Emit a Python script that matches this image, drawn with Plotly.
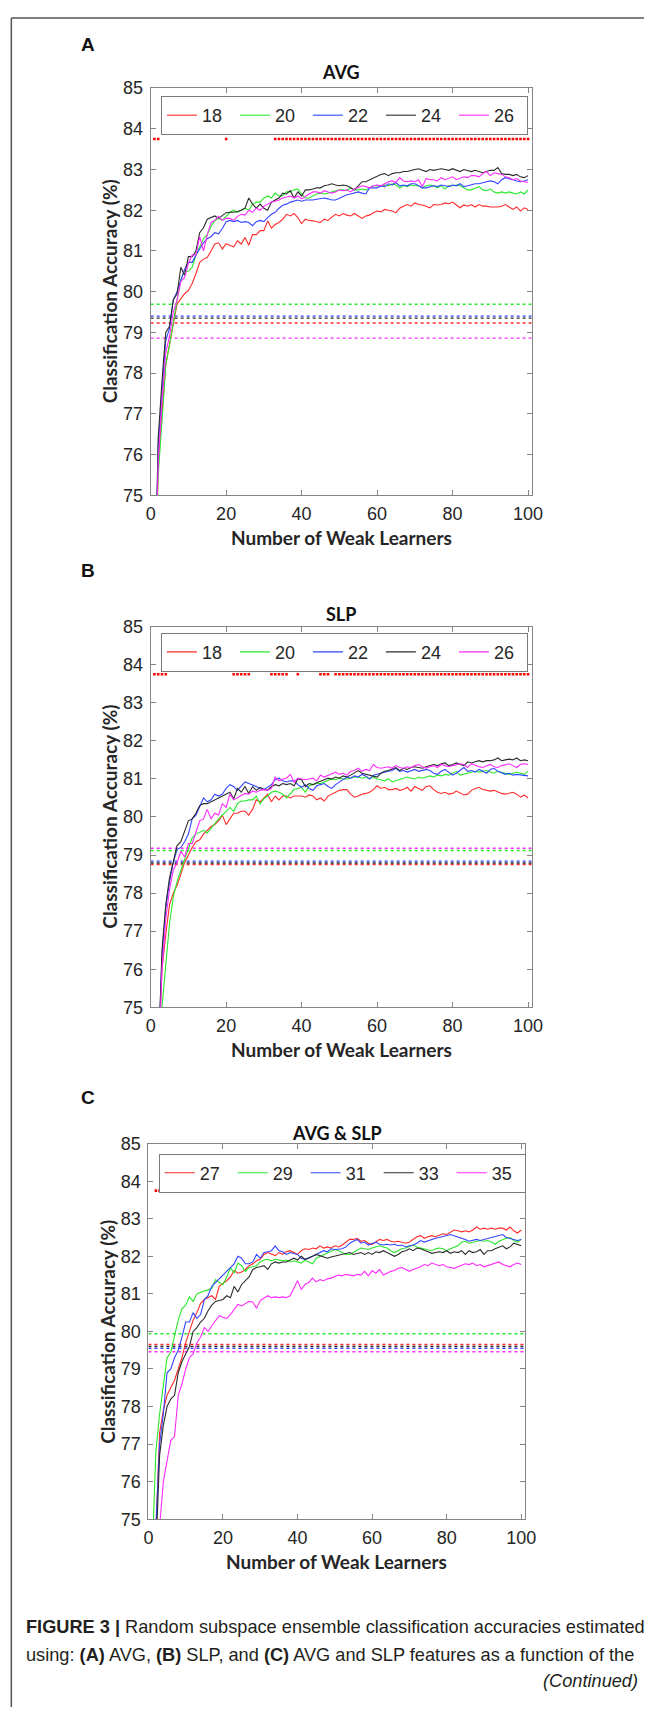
import plotly.graph_objects as go

W, H = 655, 1717
n_learners = list(range(1, 101))

# ---------------- Panel A : AVG ----------------
avg_labels = ["18", "20", "22", "24", "26"]
avg_18 = [72.0, 75.8, 77.0, 78.2, 78.7, 79.2, 79.7, 79.83, 79.95, 80.03,
          80.2, 80.44, 80.72, 80.8, 80.84, 81.0, 81.17, 81.2, 81.05, 81.18,
          81.13, 81.1, 81.25, 81.17, 81.33, 81.14, 81.4, 81.4, 81.5, 81.5,
          81.74, 81.56, 81.65, 81.7, 81.78, 81.9, 81.86, 81.92, 81.82, 81.67,
          81.78, 81.75, 81.74, 81.72, 81.7, 81.78, 81.75, 81.83, 81.9, 81.86,
          81.92, 81.88, 81.86, 81.92, 81.86, 81.8, 81.86, 81.88, 81.94, 81.98,
          81.96, 82.02, 82.0, 81.98, 81.94, 82.05, 82.1, 82.14, 82.1, 82.18,
          82.14, 82.13, 82.1, 82.06, 82.14, 82.13, 82.14, 82.18, 82.16, 82.2,
          82.13, 82.06, 82.13, 82.1, 82.14, 82.08, 82.14, 82.1, 82.1, 82.08,
          82.08, 82.08, 82.1, 82.14, 82.08, 82.02, 82.08, 81.98, 82.06, 82.02]
avg_20 = [72.0, 75.5, 76.8, 78.2, 78.7, 79.3, 79.8, 80.3, 80.5, 80.5,
          80.6, 80.9, 81.1, 81.3, 81.4, 81.6, 81.75, 81.8, 81.75, 81.85,
          81.95, 82.0, 81.95, 82.0, 82.05, 82.0, 82.15, 82.2, 82.2, 82.3,
          82.35, 82.3, 82.42, 82.35, 82.35, 82.45, 82.45, 82.5, 82.52, 82.4,
          82.3, 82.3, 82.35, 82.4, 82.42, 82.4, 82.42, 82.45, 82.48, 82.5,
          82.5, 82.48, 82.55, 82.5, 82.5, 82.52, 82.5, 82.55, 82.6, 82.6,
          82.58, 82.62, 82.6, 82.65, 82.62, 82.55, 82.6, 82.58, 82.62, 82.6,
          82.6, 82.55, 82.6, 82.62, 82.6, 82.55, 82.6, 82.52, 82.6, 82.6,
          82.62, 82.6, 82.55, 82.5, 82.5, 82.55, 82.58, 82.5, 82.48, 82.52,
          82.45, 82.42, 82.45, 82.42, 82.45, 82.42, 82.4, 82.45, 82.4, 82.5]
avg_22 = [72.0, 76.2, 77.5, 78.8, 79.1, 79.8, 80.0, 80.3, 80.55, 80.72,
          80.72, 80.9, 81.05, 81.2, 81.3, 81.35, 81.45, 81.42, 81.55, 81.72,
          81.75, 81.72, 81.75, 81.7, 81.72, 81.7, 81.62, 81.72, 81.75, 81.72,
          81.82, 81.9, 81.95, 82.05, 82.12, 82.15, 82.2, 82.22, 82.25, 82.22,
          82.25, 82.25, 82.25, 82.27, 82.28, 82.3, 82.28, 82.25, 82.25, 82.3,
          82.35, 82.38, 82.4, 82.42, 82.45, 82.42, 82.4, 82.55, 82.55, 82.55,
          82.6, 82.58, 82.65, 82.62, 82.68, 82.6, 82.62, 82.6, 82.65, 82.65,
          82.6, 82.55, 82.55, 82.58, 82.6, 82.58, 82.62, 82.6, 82.58, 82.62,
          82.6, 82.65, 82.58, 82.6, 82.62, 82.65, 82.65, 82.68, 82.7, 82.72,
          82.7, 82.65, 82.75, 82.8, 82.78, 82.75, 82.72, 82.7, 82.72, 82.75]
avg_24 = [72.0, 76.4, 77.8, 79.0, 79.15, 79.8, 79.95, 80.6, 80.4, 80.86,
          80.86, 81.0, 81.45, 81.57, 81.78, 81.82, 81.86, 81.8, 81.86, 81.94,
          81.95, 81.95, 81.97, 82.0, 82.05, 82.3, 82.15, 82.05, 82.15, 82.05,
          82.0, 82.2, 82.25, 82.3, 82.42, 82.4, 82.48, 82.3, 82.45, 82.35,
          82.5, 82.5, 82.52, 82.55, 82.55, 82.6, 82.62, 82.65, 82.62, 82.6,
          82.62, 82.6, 82.55, 82.5, 82.6, 82.7, 82.7, 82.75, 82.8, 82.85,
          82.88, 82.9, 82.85, 82.9, 82.92, 82.92, 82.95, 82.95, 82.98, 83.0,
          83.02, 82.98, 82.95, 83.0, 82.98, 83.0, 83.02, 83.0, 82.98, 83.02,
          82.98, 82.95, 83.0, 82.98, 82.95, 82.98, 82.95, 82.92, 82.95, 82.98,
          82.98, 83.05, 82.9, 82.88, 82.88, 82.85, 82.88, 82.82, 82.8, 82.85]
avg_26 = [72.0, 75.8, 77.3, 78.5, 78.9, 79.5, 79.8, 80.25, 80.35, 80.7,
          80.9, 80.9, 81.35, 81.0, 81.4, 81.7, 81.75, 81.85, 81.75, 81.8,
          81.8, 81.75, 81.85, 81.9, 81.88, 82.0, 81.95, 82.05, 82.0, 82.1,
          82.15, 82.2, 82.22, 82.25, 82.3, 82.32, 82.35, 82.3, 82.35, 82.28,
          82.35, 82.4, 82.45, 82.45, 82.42, 82.48, 82.45, 82.42, 82.45, 82.5,
          82.48, 82.5, 82.45, 82.52, 82.55, 82.6, 82.58, 82.55, 82.6, 82.62,
          82.6, 82.65, 82.7, 82.72, 82.68, 82.8, 82.72, 82.7, 82.72, 82.7,
          82.75, 82.58, 82.78, 82.75, 82.75, 82.72, 82.8, 82.75, 82.78, 82.82,
          82.75, 82.78, 82.82, 82.8, 82.85, 82.85, 82.82, 82.9, 82.95, 82.85,
          82.92, 82.9, 82.88, 82.82, 82.8, 82.75, 82.78, 82.72, 82.7, 82.68]
avg_baseline = [79.23, 79.69, 79.40, 79.35, 78.86]
avg_sig = [1, 2, 20] + list(range(33, 101))

# ---------------- Panel B : SLP ----------------
slp_labels = ["18", "20", "22", "24", "26"]
slp_18 = [71.0, 73.5, 76.0, 76.9, 77.7, 78.0, 78.2, 78.5, 78.8, 79.0,
          79.2, 79.35, 79.4, 79.55, 79.65, 79.75, 79.8, 79.9, 80.05, 79.8,
          79.95, 80.1, 80.1, 80.15, 80.15, 80.05, 80.2, 80.45, 80.4, 80.5,
          80.6, 80.4, 80.55, 80.45, 80.55, 80.55, 80.5, 80.55, 80.55, 80.55,
          80.52, 80.58, 80.55, 80.45, 80.5, 80.42, 80.55, 80.6, 80.65, 80.7,
          80.72, 80.72, 80.6, 80.52, 80.55, 80.6, 80.62, 80.65, 80.72, 80.82,
          80.75, 80.78, 80.72, 80.72, 80.75, 80.7, 80.72, 80.78, 80.68, 80.8,
          80.75, 80.7, 80.8, 80.82, 80.72, 80.65, 80.62, 80.65, 80.6, 80.62,
          80.68, 80.62, 80.58, 80.6, 80.7, 80.75, 80.78, 80.72, 80.7, 80.68,
          80.7, 80.65, 80.62, 80.6, 80.62, 80.65, 80.6, 80.52, 80.58, 80.5]
slp_20 = [70.0, 72.5, 75.0, 76.1, 77.2, 77.9, 78.3, 78.6, 78.9, 79.2,
          79.45, 79.55, 79.6, 79.65, 79.58, 79.7, 79.85, 79.95, 80.05, 80.15,
          80.25, 80.15, 80.35, 80.42, 80.42, 80.45, 80.45, 80.55, 80.35, 80.48,
          80.55, 80.65, 80.68, 80.65, 80.6, 80.5, 80.62, 80.72, 80.75, 80.78,
          80.65, 80.82, 80.85, 80.88, 80.88, 80.92, 80.95, 81.0, 80.98, 81.02,
          81.0, 81.0, 81.02, 81.05, 81.05, 81.02, 81.05, 81.0, 81.05, 81.0,
          80.98, 80.95, 81.0, 80.92, 80.95, 80.98, 81.0, 81.05, 81.02, 81.0,
          81.05, 81.02, 81.05, 81.08, 81.05, 81.1, 81.08, 81.12, 81.1, 81.15,
          81.2, 81.1, 81.12, 81.15, 81.18, 81.2, 81.18, 81.2, 81.22, 81.18,
          81.15, 81.2, 81.18, 81.15, 81.12, 81.15, 81.18, 81.15, 81.12, 81.2]
slp_22 = [71.0, 73.5, 76.3, 77.6, 78.3, 78.8, 79.15, 79.2, 79.35, 79.55,
          79.95, 80.05, 80.3, 80.5, 80.4, 80.45, 80.6, 80.55, 80.6, 80.75,
          80.85, 80.8, 80.7, 80.82, 80.92, 80.88, 80.85, 80.8, 80.75, 80.72,
          80.78, 80.85, 80.98, 81.02, 80.95, 80.92, 80.95, 80.95, 80.85, 80.78,
          80.85, 80.75, 80.7, 80.82, 80.85, 80.88, 80.8, 80.75, 80.85, 80.92,
          81.0, 81.05, 81.02, 81.08, 81.05, 81.12, 81.08, 81.0, 81.1, 81.12,
          81.15, 81.18, 81.2, 81.22, 81.28, 81.2, 81.22, 81.18, 81.22, 81.25,
          81.2, 81.22, 81.25, 81.22, 81.15, 81.12, 81.2, 81.25, 81.18, 81.1,
          81.15, 81.22, 81.3, 81.2, 81.22, 81.18, 81.25, 81.2, 81.15, 81.25,
          81.28, 81.2, 81.15, 81.12, 81.15, 81.1, 81.12, 81.1, 81.08, 81.08]
slp_24 = [71.0, 73.5, 76.5, 77.7, 78.4, 78.8, 79.25, 79.35, 79.6, 79.9,
          79.95, 80.1, 80.3, 80.35, 80.35, 80.4, 80.45, 80.5, 80.55, 80.6,
          80.65, 80.48, 80.75, 80.65, 80.8, 80.62, 80.8, 80.7, 80.78, 80.72,
          80.7, 80.8, 80.85, 80.82, 80.88, 80.85, 80.88, 80.82, 81.0, 80.98,
          80.8, 80.88, 80.85, 80.9, 80.95, 80.98, 81.02, 81.0, 81.05, 81.02,
          81.08, 81.05, 81.1, 81.15, 81.22, 81.15, 81.12, 81.1, 81.08, 81.05,
          81.15, 81.2, 81.22, 81.25, 81.3, 81.22, 81.28, 81.25, 81.3, 81.32,
          81.3, 81.28, 81.32, 81.35, 81.38, 81.35, 81.4, 81.42, 81.35, 81.38,
          81.42, 81.38, 81.35, 81.45, 81.42, 81.45, 81.48, 81.45, 81.48, 81.48,
          81.5, 81.55, 81.48, 81.5, 81.52, 81.5, 81.55, 81.48, 81.5, 81.48]
slp_26 = [71.0, 73.2, 76.0, 77.3, 78.1, 78.6, 78.8, 79.1, 78.95, 79.3,
          79.3, 79.6, 79.9, 79.95, 80.2, 79.95, 80.1, 80.05, 80.35, 80.25,
          80.6, 80.45, 80.5, 80.55, 80.62, 80.6, 80.68, 80.65, 80.7, 80.72,
          80.7, 80.75, 81.05, 80.95, 81.0, 81.02, 81.12, 80.92, 81.02, 81.0,
          80.98, 81.0, 81.02, 80.95, 81.1, 81.05, 81.1, 81.15, 81.18, 81.12,
          81.15, 81.1, 81.2, 81.22, 81.28, 81.2, 81.25, 81.22, 81.38, 81.3,
          81.28, 81.3, 81.32, 81.28, 81.35, 81.3, 81.28, 81.32, 81.3, 81.35,
          81.38, 81.32, 81.28, 81.32, 81.35, 81.3, 81.38, 81.35, 81.32, 81.35,
          81.38, 81.4, 81.38, 81.3, 81.4, 81.35, 81.32, 81.3, 81.35, 81.38,
          81.32, 81.3, 81.35, 81.38, 81.4, 81.35, 81.3, 81.38, 81.4, 81.38]
slp_baseline = [78.75, 79.12, 78.84, 78.79, 79.18]
slp_sig = ([1, 2, 3, 4] + [22, 23, 24, 25, 26] + [32, 33, 34, 35, 36] + [39]
           + [45, 46, 47] + list(range(49, 101)))

# ---------------- Panel C : AVG & SLP ----------------
both_labels = ["27", "29", "31", "33", "35"]
both_27 = [72.0, 74.7, 77.3, 77.9, 78.3, 78.5, 78.7, 79.0, 79.3, 79.7,
           80.0, 80.3, 80.5, 80.75, 80.85, 80.9, 80.95, 80.85, 81.2, 81.28,
           81.35, 81.45, 81.62, 81.55, 81.58, 81.65, 81.75, 81.8, 81.88, 81.92,
           82.05, 82.1, 82.05, 82.02, 82.1, 82.05, 82.12, 82.15, 82.1, 82.05,
           82.15, 82.2, 82.18, 82.22, 82.2, 82.28, 82.22, 82.25, 82.22, 82.28,
           82.25, 82.3, 82.38, 82.45, 82.45, 82.48, 82.4, 82.42, 82.35, 82.32,
           82.38, 82.45, 82.42, 82.45, 82.4, 82.38, 82.4, 82.38, 82.35, 82.38,
           82.45, 82.52, 82.55, 82.48, 82.52, 82.55, 82.52, 82.55, 82.6, 82.58,
           82.65, 82.7, 82.68, 82.65, 82.68, 82.65, 82.7, 82.78, 82.72, 82.75,
           82.72, 82.75, 82.72, 82.75, 82.75, 82.7, 82.78, 82.68, 82.62, 82.7]
both_29 = [74.0, 76.8, 77.8, 78.5, 79.3, 79.45, 79.9, 80.3, 80.6, 80.7,
           80.92, 80.8, 81.0, 81.05, 81.08, 81.1, 81.15, 81.38, 81.3, 81.25,
           81.45, 81.7, 81.55, 81.82, 81.75, 81.6, 81.7, 81.72, 81.75, 81.85,
           81.9, 81.92, 81.88, 81.92, 81.9, 81.88, 81.9, 81.85, 81.88, 81.85,
           81.82, 81.9, 81.85, 81.8, 81.95, 82.0, 82.05, 82.1, 82.15, 82.18,
           82.15, 82.1, 82.05, 82.05, 82.1, 82.15, 82.22, 82.2, 82.18, 82.22,
           82.25, 82.28, 82.25, 82.22, 82.15, 82.1, 82.15, 82.2, 82.22, 82.25,
           82.3, 82.25, 82.22, 82.2, 82.18, 82.15, 82.2, 82.22, 82.2, 82.15,
           82.2, 82.25, 82.28, 82.38, 82.4, 82.35, 82.38, 82.4, 82.42, 82.4,
           82.42, 82.38, 82.32, 82.4, 82.45, 82.48, 82.5, 82.42, 82.38, 82.45]
both_31 = [72.0, 74.8, 77.0, 77.8, 78.9, 79.0, 79.3, 79.5, 79.85, 80.25,
           80.25, 80.5, 80.35, 80.45, 80.85, 80.95, 81.2, 81.3, 81.4, 81.5,
           81.6, 81.7, 81.8, 82.0, 81.95, 81.8, 81.8, 81.85, 82.05, 81.95,
           82.1, 82.12, 82.15, 82.28, 82.15, 82.12, 82.05, 82.1, 82.08, 82.05,
           81.95, 81.92, 81.95, 82.0, 82.05, 82.1, 82.15, 82.12, 82.2, 82.18,
           82.2, 82.2, 82.25, 82.35, 82.4, 82.45, 82.35, 82.38, 82.3, 82.35,
           82.38, 82.32, 82.3, 82.32, 82.3, 82.32, 82.28, 82.3, 82.25, 82.28,
           82.3, 82.35, 82.42, 82.38, 82.42, 82.45, 82.48, 82.5, 82.52, 82.55,
           82.58, 82.55, 82.52, 82.48, 82.45, 82.4, 82.42, 82.45, 82.42, 82.45,
           82.48, 82.5, 82.52, 82.55, 82.58, 82.5, 82.48, 82.45, 82.42, 82.45]
both_33 = [71.5, 74.2, 76.7, 77.5, 78.0, 78.2, 78.3, 78.9, 79.2, 79.4,
           79.6, 80.0, 80.1, 80.25, 80.35, 80.55, 80.7, 80.8, 80.82, 80.85,
           80.95, 80.9, 81.2, 81.05, 81.25, 81.35, 81.45, 81.65, 81.7, 81.72,
           81.75, 81.65, 81.8, 81.85, 81.82, 81.85, 81.85, 81.9, 81.95, 81.9,
           82.0, 81.92, 81.95, 82.0, 82.05, 82.02, 82.0, 81.95, 81.98, 82.0,
           82.02, 82.05, 82.08, 82.1, 82.05, 82.08, 82.1, 82.05, 82.1, 82.05,
           82.12, 82.1, 82.15, 82.1, 82.05, 82.0, 82.05, 82.12, 82.15, 82.2,
           82.15, 82.22, 82.2, 82.15, 82.12, 82.08, 82.1, 82.12, 82.1, 82.15,
           82.08, 82.12, 82.1, 82.15, 82.05, 82.15, 82.1, 82.12, 82.18, 82.05,
           82.15, 82.15, 82.2, 82.25, 82.28, 82.2, 82.25, 82.35, 82.32, 82.28]
both_35 = [70.0, 72.5, 74.8, 76.0, 76.5, 77.1, 77.2, 78.3, 78.6, 79.0,
           79.3, 79.4, 79.7, 79.85, 80.1, 80.0, 80.15, 80.3, 80.42, 80.38,
           80.35, 80.45, 80.6, 80.72, 80.68, 80.75, 80.8, 80.78, 80.62, 80.82,
           80.88, 80.95, 80.9, 80.92, 80.9, 80.92, 80.9, 80.95, 81.15, 81.35,
           81.12, 81.25, 81.3, 81.42, 81.32, 81.38, 81.35, 81.4, 81.42, 81.45,
           81.5, 81.48, 81.52, 81.5, 81.48, 81.52, 81.5, 81.6, 81.48, 81.62,
           81.55, 81.65, 81.5, 81.55, 81.6, 81.62, 81.68, 81.7, 81.65, 81.6,
           81.65, 81.68, 81.72, 81.78, 81.75, 81.82, 81.78, 81.75, 81.78, 81.72,
           81.7, 81.68, 81.72, 81.75, 81.8, 81.78, 81.82, 81.75, 81.78, 81.72,
           81.75, 81.78, 81.8, 81.85, 81.78, 81.75, 81.72, 81.78, 81.82, 81.78]
both_baseline = [79.65, 79.94, 79.55, 79.60, 79.46]
both_sig = [2, 3] + list(range(22, 101))

sig_level = 83.75
x_ticks = [0, 20, 40, 60, 80, 100]
y_ticks = [75, 76, 77, 78, 79, 80, 81, 82, 83, 84, 85]

# ---------------- styling / layout (pixels) ----------------
colors = ["#ff2a2a", "#2ae82a", "#3344ff", "#2b2b2b", "#ff2aff"]
panels = [
    dict(letter="A", title="AVG", labels=avg_labels,
         series=[avg_18, avg_20, avg_22, avg_24, avg_26],
         base=avg_baseline, sig=avg_sig,
         left=149.3, right=540.0, top=79.0, bottom=491.0,
         letter_dy=44, title_dy=16, leg_dy=8, xt_dy=43),
    dict(letter="B", title="SLP", labels=slp_labels,
         series=[slp_18, slp_20, slp_22, slp_24, slp_26],
         base=slp_baseline, sig=slp_sig,
         left=149.3, right=540.0, top=624.0, bottom=1009.0,
         letter_dy=57, title_dy=13, leg_dy=6, xt_dy=43),
    dict(letter="C", title="AVG &amp; SLP", labels=both_labels,
         series=[both_27, both_29, both_31, both_33, both_35],
         base=both_baseline, sig=both_sig,
         left=147.0, right=533.0, top=1147.0, bottom=1527.0,
         letter_dy=47, title_dy=11, leg_dy=10, xt_dy=43),
]


def px(xp):
    return xp / W


def py(yp):
    return 1 - yp / H


fig = go.Figure()
annotations = []
layout_axes = {}
SANS = "Liberation Sans, Arial, sans-serif"
TICK_FONT = dict(family=SANS, size=18, color="#262626")
BOLD_FONT = "Lato, Open Sans, sans-serif"

for i, p in enumerate(panels):
    k = "" if i == 0 else str(i + 1)
    xa, ya = "x" + k, "y" + k
    leg = "legend" + k
    for c, b in zip(colors, p["base"]):
        fig.add_trace(go.Scatter(x=[0, 101], y=[b, b], mode="lines", xaxis=xa, yaxis=ya,
                                 line=dict(color=c, width=1.4, dash="dot"),
                                 showlegend=False, hoverinfo="skip"))
    for c, lab, s in zip(colors, p["labels"], p["series"]):
        fig.add_trace(go.Scatter(x=n_learners, y=s, mode="lines", name=lab,
                                 xaxis=xa, yaxis=ya, legend=leg,
                                 line=dict(color=c, width=1.1)))
    fig.add_trace(go.Scatter(x=p["sig"], y=[sig_level] * len(p["sig"]), mode="markers",
                             xaxis=xa, yaxis=ya, showlegend=False, hoverinfo="skip",
                             marker=dict(symbol="square", size=2.6, color="#ff0000",
                                         line=dict(width=0))))
    axis_common = dict(showgrid=False, zeroline=False, showline=True, linecolor="#858585",
                       linewidth=1, mirror="ticks", ticks="inside", ticklen=5,
                       tickcolor="#858585", tickfont=TICK_FONT)
    layout_axes["xaxis" + k] = dict(axis_common, domain=[px(p["left"]), px(p["right"])],
                                    range=[0, 101], tickvals=x_ticks, anchor=ya,
                                    ticklabelstandoff=2)
    layout_axes["yaxis" + k] = dict(axis_common, domain=[py(p["bottom"]), py(p["top"])],
                                    range=[75, 85], tickvals=y_ticks, anchor=xa,
                                    ticklabelstandoff=3)
    layout_axes[leg] = dict(orientation="h", x=px(p["left"] + 10.5), y=py(p["top"] + p["leg_dy"]),
                            xanchor="left", yanchor="top", bgcolor="white",
                            bordercolor="#7a7a7a", borderwidth=1,
                            font=dict(family=SANS, size=18, color="#262626"),
                            entrywidth=28, entrywidthmode="pixels", itemwidth=30,
                            tracegroupgap=0, traceorder="normal")
    cx = (p["left"] + p["right"]) / 2
    cy = (p["top"] + p["bottom"]) / 2
    annotations += [
        dict(text="<b>%s</b>" % p["letter"], x=px(76), y=py(p["top"] - p["letter_dy"]),
             xanchor="left", yanchor="middle",
             font=dict(family=SANS, size=19, color="#111")),
        dict(text="<b>%s</b>" % p["title"], x=px(cx), y=py(p["top"] - p["title_dy"]),
             xanchor="center", yanchor="middle",
             font=dict(family=BOLD_FONT, size=18, color="#111")),
        dict(text="<b>Classification Accuracy (%)</b>", x=px(p["left"] - 42), y=py(cy),
             xanchor="center", yanchor="middle", textangle=-90,
             font=dict(family=BOLD_FONT, size=19, color="#262626")),
        dict(text="<b>Number of Weak Learners</b>", x=px(cx), y=py(p["bottom"] + p["xt_dy"]),
             xanchor="center", yanchor="middle",
             font=dict(family=BOLD_FONT, size=19, color="#262626")),
    ]

CAP_FONT = dict(family=SANS, size=18.2, color="#231f20")
annotations += [
    dict(text="<b>FIGURE 3 |</b> Random subspace ensemble classification accuracies estimated",
         x=px(19), y=py(1636), xanchor="left", yanchor="middle", font=CAP_FONT),
    dict(text="using: <b>(A)</b> AVG, <b>(B)</b> SLP, and <b>(C)</b> AVG and SLP features as a function of the",
         x=px(19), y=py(1664), xanchor="left", yanchor="middle", font=CAP_FONT),
    dict(text="<i>(Continued)</i>", x=px(651), y=py(1691), xanchor="right", yanchor="middle",
         font=CAP_FONT),
]
for a in annotations:
    a.update(xref="paper", yref="paper", showarrow=False)

shapes = [
    dict(type="line", xref="paper", yref="paper", x0=px(6.5), x1=1.0, y0=py(8), y1=py(8),
         line=dict(color="#555555", width=1.5)),
    dict(type="line", xref="paper", yref="paper", x0=px(6.5), x1=px(6.5), y0=py(8), y1=0,
         line=dict(color="#555555", width=1.5)),
]

fig.update_layout(width=W, height=H, margin=dict(l=0, r=0, t=0, b=0),
                  paper_bgcolor="white", plot_bgcolor="white",
                  annotations=annotations, shapes=shapes, **layout_axes)

fig.write_html("out.html", config={"displayModeBar": False},
               post_script="document.body.style.margin='0px';"
                           "document.documentElement.style.overflow='hidden';")
